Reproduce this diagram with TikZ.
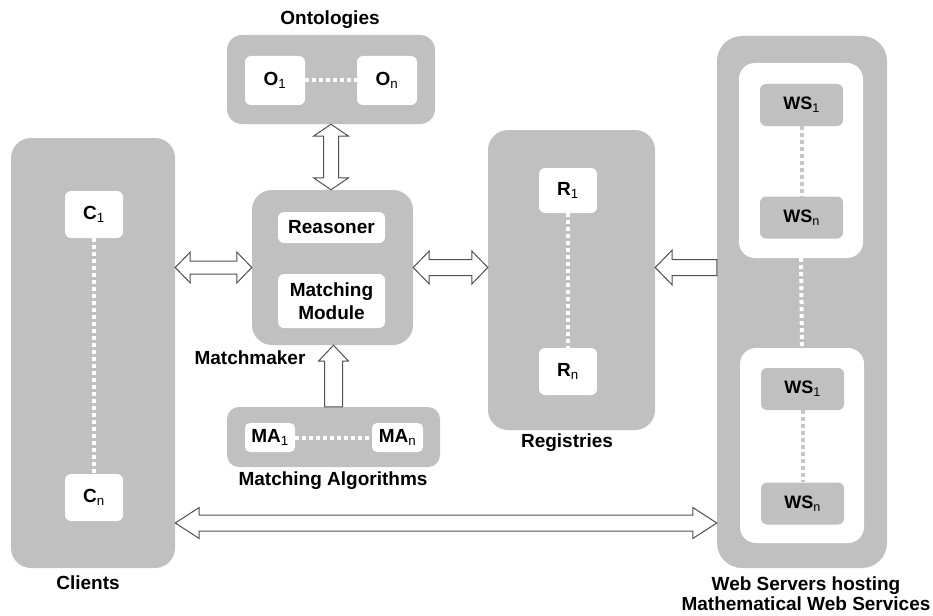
\documentclass[tikz,border=0pt]{standalone}
\usepackage{fontspec}
\setmainfont{Liberation Sans}
\usetikzlibrary{calc}
\definecolor{boxgray}{RGB}{192,192,192}
\definecolor{dotgray}{RGB}{198,198,198}
\definecolor{arrowline}{RGB}{80,80,80}
\newcommand\lowsub[1]{\textsubscript{\mdseries #1}}
% double block arrow from #1 to #2; #3 head length, #4 head half width, #5 shaft half width
\newcommand\dblblock[5]{%
  \coordinate (ha) at ($(#1)!#3!(#2)$);
  \coordinate (hb) at ($(#2)!#3!(#1)$);
  \draw[blockarrow] (#1) -- ($(ha)!#4!90:(#2)$) -- ($(ha)!#5!90:(#2)$)
    -- ($(hb)!#5!-90:(#1)$) -- ($(hb)!#4!-90:(#1)$) -- (#2)
    -- ($(hb)!#4!90:(#1)$) -- ($(hb)!#5!90:(#1)$)
    -- ($(ha)!#5!-90:(#2)$) -- ($(ha)!#4!-90:(#2)$) -- cycle;}
% single block arrow, tail #1, tip #2
\newcommand\sglblock[5]{%
  \coordinate (hb) at ($(#2)!#3!(#1)$);
  \draw[blockarrow] ($(#1)!#5!90:(#2)$) -- ($(hb)!#5!-90:(#1)$)
    -- ($(hb)!#4!-90:(#1)$) -- (#2) -- ($(hb)!#4!90:(#1)$)
    -- ($(hb)!#5!90:(#1)$) -- ($(#1)!#5!-90:(#2)$) -- cycle;}
\begin{document}
\begin{tikzpicture}[x=1pt,y=-1pt,
  outer/.style={fill=boxgray, draw=none, rounded corners=20pt, inner sep=0pt},
  inbox/.style={fill=white, draw=none, rounded corners=16pt, inner sep=0pt},
  item/.style={fill=white, draw=none, rounded corners=6pt, inner sep=0pt, align=center,
    font=\fontsize{19}{23}\selectfont\bfseries},
  wsitem/.style={fill=boxgray, draw=none, rounded corners=6pt, inner sep=0pt,
    font=\fontsize{18}{22}\selectfont\bfseries},
  lbl/.style={inner sep=0pt, align=center, font=\fontsize{19}{20}\selectfont\bfseries},
  dotw/.style={draw=white, line width=4pt, dash pattern=on 4pt off 3pt},
  dotg/.style={draw=dotgray, line width=4pt, dash pattern=on 4pt off 3pt},
  blockarrow/.style={fill=white, draw=arrowline, line width=1pt, line join=miter}]
\useasboundingbox (0,0) rectangle (933,615);

% Clients
\node[outer, minimum width=164pt, minimum height=430pt] (cl) at (93,353) {};
\node[item, minimum width=58pt, minimum height=47pt] (c1) at (94,214.5) {C\lowsub{1}};
\node[item, minimum width=58pt, minimum height=47pt] (cn) at (94,497.5) {C\lowsub{n}};
\draw[dotw] (c1.south) -- (cn.north);
\node[lbl] (cllbl) at (88,583) {Clients};

% Ontologies
\node[outer, rounded corners=15pt, minimum width=208pt, minimum height=89pt] (ont) at (331,79.5) {};
\node[item, minimum width=60pt, minimum height=49pt] (o1) at (275,80.5) {O\lowsub{1}};
\node[item, minimum width=60pt, minimum height=49pt] (on) at (387,80.5) {O\lowsub{n}};
\draw[dotw] (o1.east) -- (on.west);
\node[lbl] (ontlbl) at (330,20) {Ontologies};

% Matchmaker
\node[outer, minimum width=161pt, minimum height=155pt] (mm) at (332.5,267.5) {};
\node[item, minimum width=107pt, minimum height=31pt] (rs) at (331.5,227.5) {Reasoner};
\node[item, minimum width=107pt, minimum height=54pt] (mmod) at (331.5,301) {Matching\\Module};
\node[lbl] (mmlbl) at (250,358) {Matchmaker};

% Matching algorithms
\node[outer, rounded corners=12pt, minimum width=213pt, minimum height=60pt] (ma) at (333.5,437) {};
\node[item, rounded corners=5pt, minimum width=50pt, minimum height=29pt] (ma1) at (270,437.5) {MA\lowsub{1}};
\node[item, rounded corners=5pt, minimum width=51pt, minimum height=29pt] (man) at (397.5,437.5) {MA\lowsub{n}};
\draw[dotw] (ma1.east) -- (man.west);
\node[lbl] (malbl) at (333,481) {Matching Algorithms};

% Registries
\node[outer, minimum width=167pt, minimum height=300pt] (reg) at (571.5,280) {};
\node[item, minimum width=58pt, minimum height=45pt] (r1) at (568,190.5) {R\lowsub{1}};
\node[item, minimum width=58pt, minimum height=47pt] (rn) at (568,371.5) {R\lowsub{n}};
\draw[dotw] (r1.south) -- (rn.north);
\node[lbl] (reglbl) at (567,443) {Registries};

% Web servers
\node[outer, rounded corners=25pt, minimum width=170pt, minimum height=532pt] (web) at (802,302) {};
\node[inbox, minimum width=124pt, minimum height=195pt] (in1) at (801,160.5) {};
\node[wsitem, minimum width=83pt, minimum height=42pt] (ws1a) at (801.5,105) {WS\lowsub{1}};
\node[wsitem, minimum width=83pt, minimum height=42pt] (wsna) at (801.5,217.5) {WS\lowsub{n}};
\draw[dotg] (ws1a.south) -- (wsna.north);
\node[inbox, minimum width=124pt, minimum height=195pt] (in2) at (802,445.5) {};
\node[wsitem, minimum width=83pt, minimum height=42pt] (ws1b) at (802.5,389) {WS\lowsub{1}};
\node[wsitem, minimum width=83pt, minimum height=42pt] (wsnb) at (802.5,503.5) {WS\lowsub{n}};
\draw[dotg] (ws1b.south) -- (wsnb.north);
\draw[dotw] (in1.south) -- (in2.north);
\node[lbl] (weblbl) at (806,594) {Web Servers hosting\\Mathematical Web Services};

% Block arrows
\coordinate (a1) at (cl.east |- mm.west);
\dblblock{a1}{mm.west}{15pt}{15.5pt}{6.5pt}
\coordinate (a2) at (reg.west |- mm.east);
\dblblock{mm.east}{a2}{16pt}{16.5pt}{8pt}
\coordinate (a3) at (web.west |- mm.east);
\coordinate (a4) at (reg.east |- mm.east);
\sglblock{a3}{a4}{17pt}{17.5pt}{8pt}
\coordinate (a6) at (ont.south |- mm.north);
\dblblock{ont.south}{a6}{12pt}{17.5pt}{7.5pt}
\coordinate (a7) at (ma.north |- mm.south);
\sglblock{ma.north}{a7}{16pt}{15pt}{9pt}
\coordinate (by) at (0,523);
\coordinate (b1) at (cl.east |- by);
\coordinate (b2) at (web.west |- by);
\dblblock{b1}{b2}{24pt}{15.5pt}{8pt}
\end{tikzpicture}
\end{document}
